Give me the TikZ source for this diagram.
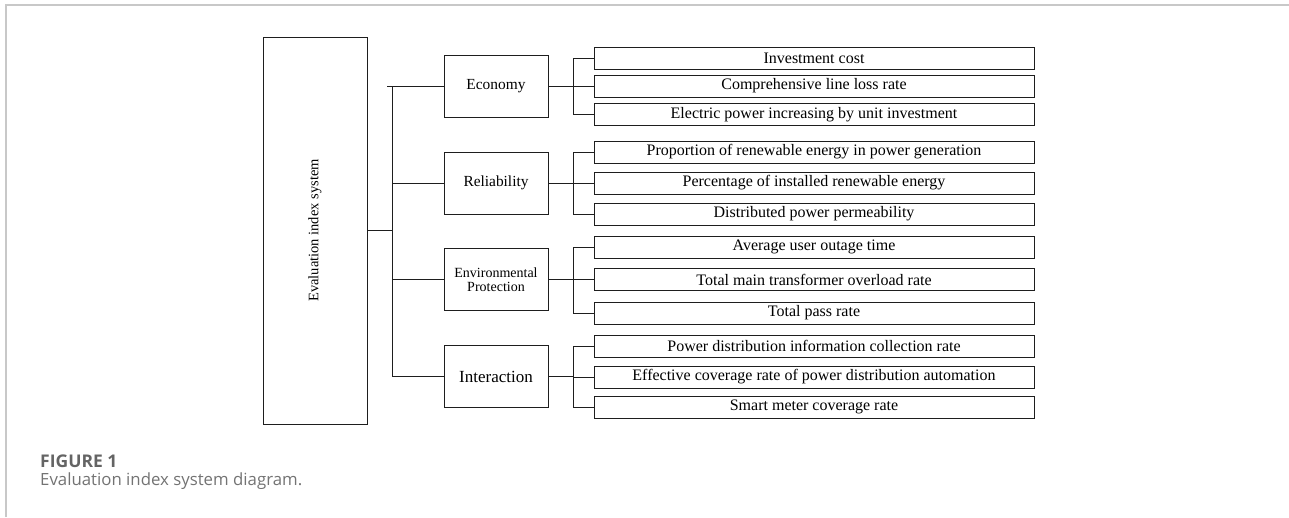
\documentclass[tikz,border=0pt]{standalone}
\usepackage{fontspec}
\usepackage{tikz}
\usetikzlibrary{positioning, calc}
\newfontfamily\diagfont{Liberation Serif}
\newfontfamily\capfont{Open Sans}
\definecolor{linegray}{RGB}{30,30,30}
\definecolor{framegray}{RGB}{200,200,200}
\definecolor{capgray}{RGB}{100,100,100}
\definecolor{captxtgray}{RGB}{115,115,115}

\begin{document}
\begin{tikzpicture}[x=1pt, y=-1pt,
    box/.style={draw=linegray, line width=1pt, rectangle, inner sep=0pt},
    cat/.style={box, minimum width=104pt, minimum height=62pt, align=center, font=\diagfont\fontsize{15.4}{15.4}\selectfont},
    leaf/.style={box, minimum width=440pt, minimum height=22pt, font=\diagfont\fontsize{16}{18}\selectfont},
    wire/.style={draw=linegray, line width=1pt, line cap=rect}
]
\useasboundingbox (0,0) rectangle (1289,517);

% Frame
\draw[framegray, line width=2pt] (6,517) -- (6,5) -- (1289,5);

% Root
\node[box, minimum width=104pt, minimum height=387pt] (eval) at (315,230.5) {};
\node[rotate=90, font=\diagfont\fontsize{14.5}{17}\selectfont] (evaltxt) at (eval.center) {Evaluation index system};

% Categories
\node[cat] (c1) at (496,86) {Economy};
\node[cat] (c2) at (496,183) {Reliability};
\node[cat, font=\diagfont\fontsize{14}{13.5}\selectfont] (c3) at (496,279.5) {Environmental\\Protection};
\node[cat, font=\diagfont\fontsize{17}{17}\selectfont] (c4) at (496,376.5) {Interaction};

% Indexes
\foreach \n/\y/\txt in {11/58/Investment cost, 12/86/Comprehensive line loss rate,
    13/114.5/Electric power increasing by unit investment,
    21/152/Proportion of renewable energy in power generation,
    22/183/Percentage of installed renewable energy,
    23/214/Distributed power permeability,
    31/247/Average user outage time, 32/279.5/Total main transformer overload rate,
    33/313/Total pass rate,
    41/346/Power distribution information collection rate,
    42/377/Effective coverage rate of power distribution automation,
    43/407/Smart meter coverage rate} {
    \node[leaf] (l\n) at (814,\y) {\txt};
}

% Root to categories
\coordinate (bus) at (392,0);
\coordinate (stub) at (387,86);
\draw[wire] (eval.east) -- (eval.east -| bus);
\draw[wire] (c1.west -| bus) -- (c4.west -| bus);
\draw[wire] (stub) -- (c1.west);
\foreach \i in {2,3,4} {
    \draw[wire] (c\i.west -| bus) -- (c\i.west);
}

% Categories to indexes
\coordinate (rbus) at (573,0);
\foreach \i in {1,...,4} {
    \draw[wire] (c\i.east) -- (c\i.east -| rbus);
    \draw[wire] (l\i1.west -| rbus) -- (l\i3.west -| rbus);
    \foreach \j in {1,2,3} {
        \draw[wire] (l\i\j.west -| rbus) -- (l\i\j.west);
    }
}

% Caption
\node[anchor=base west, inner sep=0pt, text=capgray, font=\capfont\bfseries\fontsize{17.5}{20}\selectfont] (fignum) at (40,467) {FIGURE 1};
\node[anchor=base west, inner sep=0pt, text=captxtgray, font=\capfont\fontsize{16.8}{20}\selectfont] (figcap) at (40,485.5) {Evaluation index system diagram.};

\end{tikzpicture}
\end{document}
